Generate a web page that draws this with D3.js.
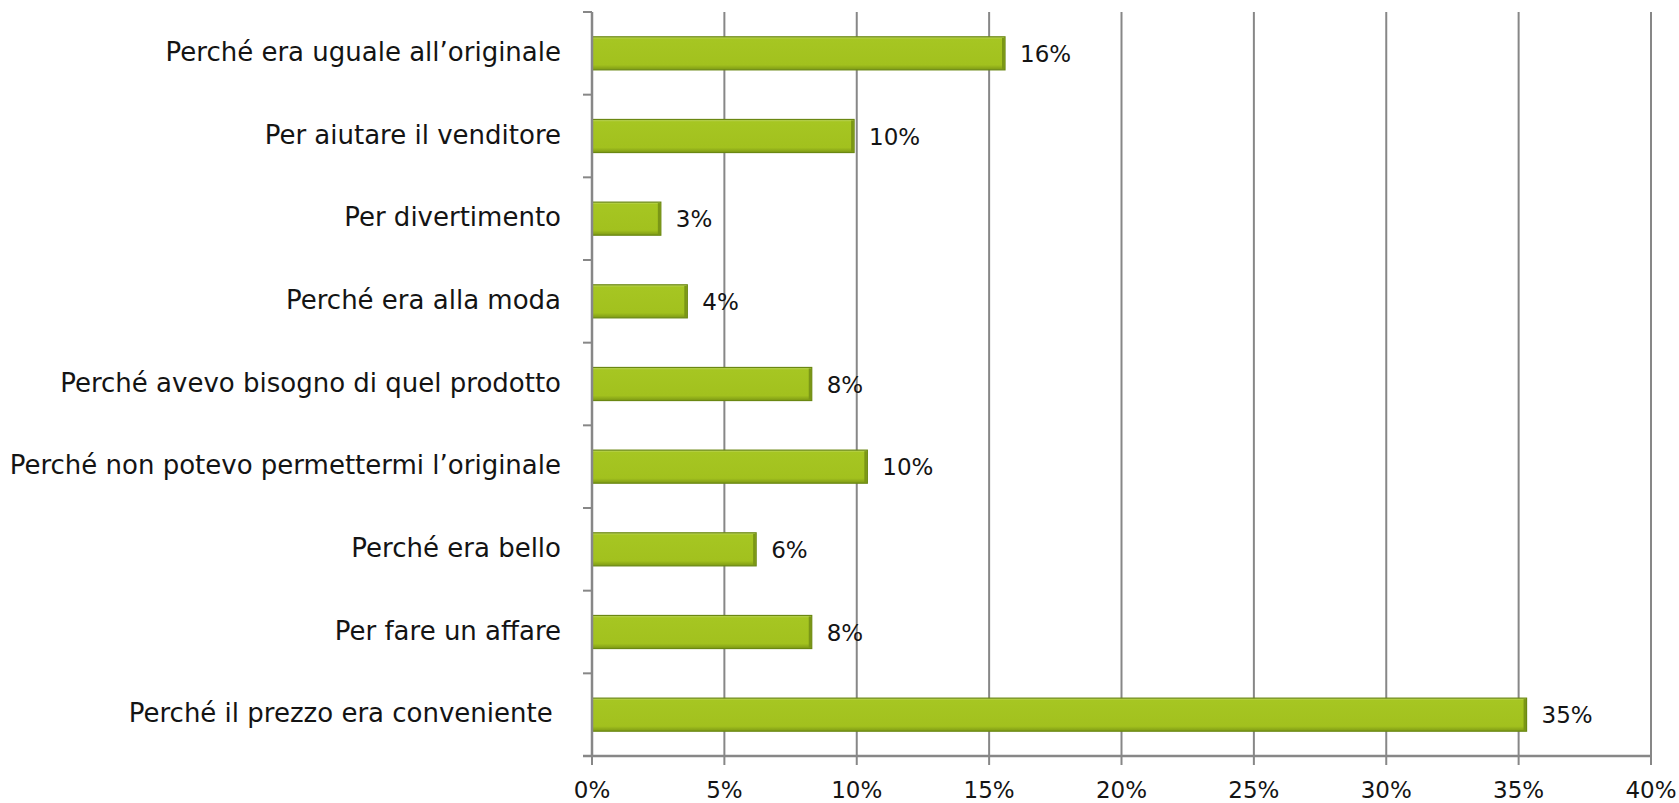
<!DOCTYPE html>
<html>
<head>
<meta charset="utf-8">
<script src="https://cdn.jsdelivr.net/npm/d3@7/dist/d3.min.js"></script>
<style>
  html, body { margin: 0; padding: 0; background: #fff; }
  svg { display: block; }
  text { font-family: "DejaVu Sans", Lato, sans-serif; fill: #141414; }
</style>
</head>
<body>
<svg id="chart" width="1679" height="803"></svg>
<script>
// Motivazioni d'acquisto (quota di risposte)
const categories = [
  "Perché era uguale all’originale",
  "Per aiutare il venditore",
  "Per divertimento",
  "Perché era alla moda",
  "Perché avevo bisogno di quel prodotto",
  "Perché non potevo permettermi l’originale",
  "Perché era bello",
  "Per fare un affare",
  "Perché il prezzo era conveniente "
];
const values = [0.156, 0.099, 0.026, 0.036, 0.083, 0.104, 0.062, 0.083, 0.353];
const xTicks = [0, 0.05, 0.10, 0.15, 0.20, 0.25, 0.30, 0.35, 0.40];

const plot = { left: 592, right: 1651, top: 12, bottom: 756 };

const svg = d3.select("#chart");

const x = d3.scaleLinear().domain([0, 0.40]).range([plot.left, plot.right]);
const y = d3.scaleBand().domain(categories).range([plot.top, plot.bottom])
  .paddingInner(0.6).paddingOuter(0.3);

const pct = d3.format(".0%");
const gridColor = "#878787";

// vertical gridlines
svg.append("g").selectAll("line").data(xTicks.slice(1)).join("line")
  .attr("x1", d => x(d)).attr("x2", d => x(d))
  .attr("y1", plot.top).attr("y2", plot.bottom)
  .attr("stroke", gridColor).attr("stroke-width", 2);

// bar shading
const defs = svg.append("defs");
const grad = defs.append("linearGradient").attr("id", "barFill")
  .attr("x1", 0).attr("y1", 0).attr("x2", 0).attr("y2", 1);
[[0, "#c3d96a"], [0.07, "#a6c622"], [0.85, "#a2c11e"], [1, "#7d9915"]]
  .forEach(([o, c]) => grad.append("stop").attr("offset", o).attr("stop-color", c));

const bars = svg.append("g").selectAll("g").data(categories).join("g");
bars.append("rect")
  .attr("x", x(0))
  .attr("y", d => y(d))
  .attr("width", (d, i) => x(values[i]) - x(0))
  .attr("height", y.bandwidth())
  .attr("fill", "url(#barFill)")
  .attr("stroke", "#6a8712").attr("stroke-width", 1.2);
bars.append("rect")
  .attr("x", (d, i) => x(values[i]) - 3)
  .attr("y", d => y(d) + 1)
  .attr("width", 2.5)
  .attr("height", y.bandwidth() - 2)
  .attr("fill", "#7a9616");

// value labels
bars.append("text")
  .attr("x", (d, i) => x(values[i]) + 15)
  .attr("y", d => y(d) + y.bandwidth() / 2 + 2)
  .attr("dominant-baseline", "middle")
  .style("font-size", "23px")
  .text((d, i) => pct(values[i]));

// category axis
const step = y.step();
const bounds = categories.map(c => y(c) + y.bandwidth() / 2 - step / 2).concat([plot.bottom]);
const axisG = svg.append("g");
axisG.selectAll("line.tick").data(bounds).join("line").attr("class", "tick")
  .attr("x1", plot.left - 9).attr("x2", plot.left)
  .attr("y1", d => d).attr("y2", d => d)
  .attr("stroke", gridColor).attr("stroke-width", 2);
axisG.append("line")
  .attr("x1", plot.left).attr("x2", plot.left)
  .attr("y1", plot.top).attr("y2", plot.bottom)
  .attr("stroke", gridColor).attr("stroke-width", 2.5);
axisG.selectAll("text").data(categories).join("text")
  .attr("x", plot.left - 31)
  .attr("y", d => y(d) + y.bandwidth() / 2)
  .attr("text-anchor", "end")
  .attr("dominant-baseline", "middle")
  .style("font-size", "26px")
  .style("white-space", "pre")
  .text(d => d);

// value axis
const xAxisG = svg.append("g");
xAxisG.append("line")
  .attr("x1", plot.left - 9).attr("x2", plot.right)
  .attr("y1", plot.bottom).attr("y2", plot.bottom)
  .attr("stroke", gridColor).attr("stroke-width", 2.5);
xAxisG.selectAll("line.tick").data(xTicks).join("line").attr("class", "tick")
  .attr("x1", d => x(d)).attr("x2", d => x(d))
  .attr("y1", plot.bottom).attr("y2", plot.bottom + 9)
  .attr("stroke", gridColor).attr("stroke-width", 2);
xAxisG.selectAll("text").data(xTicks).join("text")
  .attr("x", d => x(d))
  .attr("y", plot.bottom + 35)
  .attr("text-anchor", "middle")
  .attr("dominant-baseline", "middle")
  .style("font-size", "23px")
  .text(d => pct(d));
</script>
</body>
</html>
